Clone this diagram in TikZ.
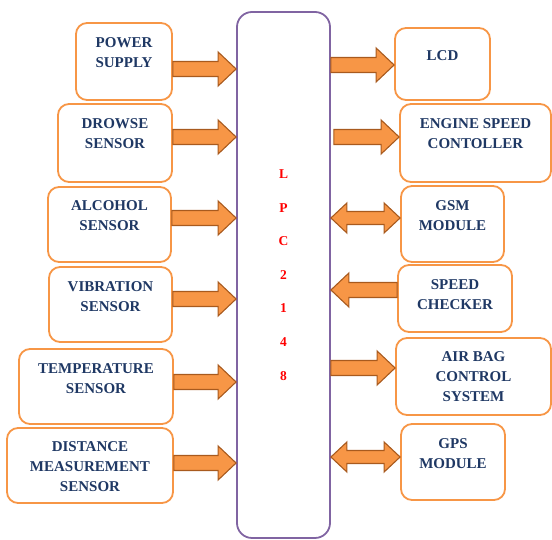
\documentclass[tikz,border=0pt]{standalone}
\usepackage{fontspec}
\setmainfont{Liberation Serif}
\usetikzlibrary{positioning,calc}
\definecolor{boxorange}{HTML}{F79646}
\definecolor{arrowedge}{HTML}{A85A1E}
\definecolor{mcupurple}{HTML}{8064A2}
\definecolor{navytext}{HTML}{1F3864}

\begin{document}
\begin{tikzpicture}[x=1pt, y=1pt,
  font=\fontsize{15}{20}\selectfont\bfseries,
  blk/.style={draw=boxorange, line width=1.8pt, rounded corners=11pt, fill=white},
  txt/.style={text=navytext, align=center, inner sep=0pt},
  mcu/.style={draw=mcupurple, line width=1.8pt, rounded corners=15pt,
    text=red, align=center, font=\fontsize{13.5}{33.6}\selectfont\bfseries},
  fat/.style={draw=arrowedge, fill=boxorange, line width=1.1pt, to path={
    let \p1=(\tikztostart), \p2=(\tikztotarget), \p3=($(\x2,\y1)!18pt!(\x1,\y1)$) in
    (\x1,\y1+7.5pt) -- (\x3,\y1+7.5pt) -- (\x3,\y1+17pt) -- (\x2,\y1)
    -- (\x3,\y1-17pt) -- (\x3,\y1-7.5pt) -- (\x1,\y1-7.5pt) -- cycle}},
  fatboth/.style={draw=arrowedge, fill=boxorange, line width=1.1pt, to path={
    let \p1=(\tikztostart), \p2=(\tikztotarget), \p3=($(\x2,\y1)!16pt!(\x1,\y1)$),
    \p4=($(\x1,\y1)!16pt!(\x2,\y1)$) in
    (\x1,\y1) -- (\x4,\y1+15pt) -- (\x4,\y1+6.5pt) -- (\x3,\y1+6.5pt) -- (\x3,\y1+15pt)
    -- (\x2,\y1) -- (\x3,\y1-15pt) -- (\x3,\y1-6.5pt) -- (\x4,\y1-6.5pt)
    -- (\x4,\y1-15pt) -- cycle}},
]
\useasboundingbox (0,0) rectangle (552,540);
% controller
\node[mcu, minimum width=93, minimum height=526] (lpc) at (283.5,265) {L\\P\\C\\2\\1\\4\\8};
% inputs
\node[blk, minimum width=96, minimum height=77] (pwr) at (124,478.5) {};
\node[blk, minimum width=114, minimum height=78] (drw) at (115,397) {};
\node[blk, minimum width=123, minimum height=75] (alc) at (109.5,315.5) {};
\node[blk, minimum width=123, minimum height=75] (vib) at (110.5,235.5) {};
\node[blk, minimum width=154, minimum height=75] (tmp) at (96,153.5) {};
\node[blk, minimum width=166, minimum height=75] (dst) at (90,74.5) {};
% outputs
\node[blk, minimum width=95, minimum height=72] (lcd) at (442.5,476) {};
\node[blk, minimum width=151, minimum height=78] (eng) at (475.5,397) {};
\node[blk, minimum width=103, minimum height=76] (gsm) at (452.5,316) {};
\node[blk, minimum width=114, minimum height=67] (spd) at (455,241.5) {};
\node[blk, minimum width=155, minimum height=77] (air) at (473.5,163.5) {};
\node[blk, minimum width=104, minimum height=76] (gps) at (453,78) {};
% labels
\node[txt, below=15pt of pwr.north, anchor=north] (pwr-t) {POWER\\SUPPLY};
\node[txt, below=15pt of drw.north, anchor=north] (drw-t) {DROWSE\\SENSOR};
\node[txt, below=14pt of alc.north, anchor=north] (alc-t) {ALCOHOL\\SENSOR};
\node[txt, below=15pt of vib.north, anchor=north] (vib-t) {VIBRATION\\SENSOR};
\node[txt, below=15pt of tmp.north, anchor=north] (tmp-t) {TEMPERATURE\\SENSOR};
\node[txt, below=14pt of dst.north, anchor=north] (dst-t) {DISTANCE\\MEASUREMENT\\SENSOR};
\node[txt, below=23pt of lcd.north, anchor=north] (lcd-t) {LCD};
\node[txt, below=15pt of eng.north, anchor=north] (eng-t) {ENGINE SPEED\\CONTOLLER};
\node[txt, below=15pt of gsm.north, anchor=north] (gsm-t) {GSM\\MODULE};
\node[txt, below=15pt of spd.north, anchor=north] (spd-t) {SPEED\\CHECKER};
\node[txt, below=14pt of air.north, anchor=north] (air-t) {AIR BAG\\CONTROL\\SYSTEM};
\node[txt, below=15pt of gps.north, anchor=north] (gps-t) {GPS\\MODULE};
% arrows
\draw[fat] ([yshift=-7.5pt]pwr.east) to (lpc.west);
\draw[fat] ([yshift=6pt]drw.east) to (lpc.west);
\draw[fat] ([yshift=6.5pt]alc.east) to (lpc.west);
\draw[fat] ([yshift=5.5pt]vib.east) to (lpc.west);
\draw[fat] ([yshift=4.5pt]tmp.east) to (lpc.west);
\draw[fat] ([yshift=2.5pt]dst.east) to (lpc.west);
\draw[fat] ([yshift=-1pt]lcd.west -| lpc.east) to (lcd.west);
\draw[fat] ([xshift=3pt,yshift=6pt]eng.west -| lpc.east) to (eng.west);
\draw[fatboth] ([yshift=6pt]gsm.west -| lpc.east) to (gsm.west);
\draw[fat] ([yshift=8.5pt]spd.west) to (lpc.east);
\draw[fat] ([yshift=8.5pt]air.west -| lpc.east) to (air.west);
\draw[fatboth] ([yshift=5pt]gps.west -| lpc.east) to (gps.west);
\end{tikzpicture}
\end{document}
